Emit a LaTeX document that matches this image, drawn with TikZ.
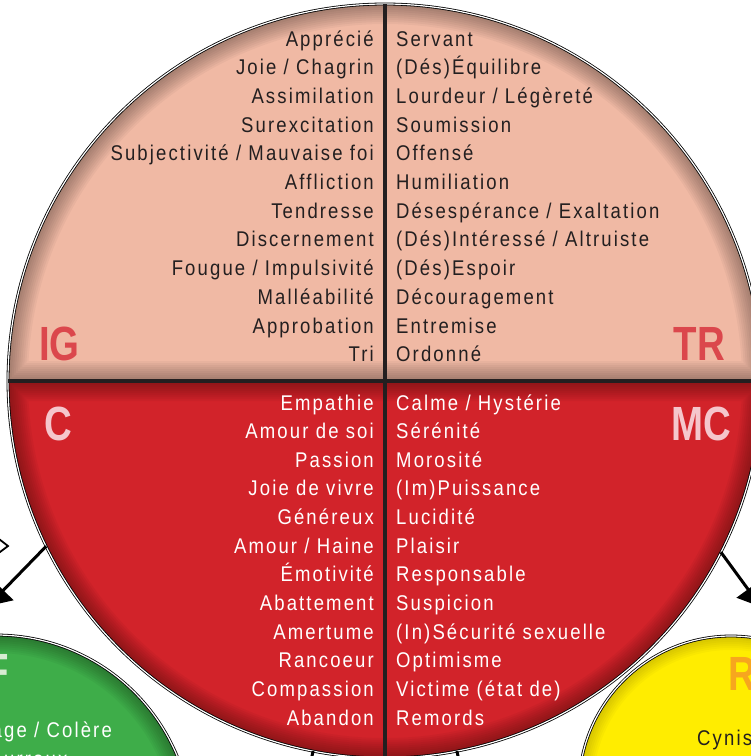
\documentclass[tikz,border=0pt]{standalone}
\usepackage{fontspec}
\setmainfont{Liberation Sans}[FakeStretch=0.87,LetterSpace=10]
\newfontfamily\labelfont{Liberation Sans}[FakeStretch=0.8]
\usetikzlibrary{arrows.meta}
\definecolor{fireLight}{RGB}{240,185,164}
\definecolor{fireDark}{RGB}{210,35,42}
\definecolor{labelTop}{RGB}{219,71,76}
\definecolor{labelBottom}{RGB}{245,198,204}
\definecolor{inkGray}{RGB}{35,31,32}
\definecolor{woodGreen}{RGB}{62,173,73}
\definecolor{woodLight}{RGB}{215,236,210}
\definecolor{earthYellow}{RGB}{255,237,0}
\definecolor{earthOrange}{RGB}{247,166,30}
\tikzset{
    my-ring/.style={
        circle, draw=black, line width=.8pt, double=white, double distance=1.2pt, inner sep=0pt, outer sep=0pt
    },
    my-word/.style={inner sep=0pt, font=\fontsize{21.3}{25}\selectfont},
    my-word-left/.style={my-word, anchor=base east},
    my-word-right/.style={my-word, anchor=base west},
    my-label/.style={inner sep=0pt, font=\labelfont\bfseries\fontsize{48}{48}\selectfont},
    my-arrow/.style={line width=3pt, -{Triangle[length=22pt,width=28pt]}},
    my-divider/.style={draw=inkGray, line width=4.5pt},
}

\begin{document}
\begin{tikzpicture}[x=1pt, y=-1pt]

        \useasboundingbox (0,0) rectangle (751,756);
        \clip (0,0) rectangle (751,756);

        % WOOD CIRCLE (GREEN)
        \fill[woodGreen] (-4,831) circle[radius=196];
        \begin{scope}
            \clip (-4,831) circle[radius=196];
            \foreach \w in {4,8,...,36}
                \draw[line width=\w pt, black, opacity=.035] (-4,831) circle[radius=196];
        \end{scope}
        \node[my-ring, minimum size=392pt] (WOOD) at (-4,831) {};
        \node[my-label, text=woodLight, anchor=base east] (F)  at (9,687)   {F};
        \node[my-word-right, text=white] (WOOD1) at (-24,737) {Rage / Colère};
        \node[my-word-right, text=white] (WOOD2) at (-24,766) {Courroux};

        % EARTH CIRCLE (YELLOW)
        \fill[earthYellow] (731,788) circle[radius=152];
        \begin{scope}
            \clip (731,788) circle[radius=152];
            \foreach \w in {4,8,...,28}
                \draw[line width=\w pt, black, opacity=.025] (731,788) circle[radius=152];
        \end{scope}
        \node[my-ring, minimum size=304pt] (EARTH) at (731,788) {};
        \node[my-label, text=earthOrange, anchor=base west] (R) at (728,690) {R};
        \node[my-word-right, text=inkGray] (EARTH1) at (697,745) {Cynisme};

        % FIRE CIRCLE, TOP HALF
        \fill[fireLight] (8,381) arc[start angle=180, end angle=360, radius=377] -- cycle;
        \begin{scope}
            \clip (8,381) arc[start angle=180, end angle=360, radius=377] -- cycle;
            \foreach \w in {4,8,...,40}
                \draw[line width=\w pt, black, opacity=.035] (8,381) arc[start angle=180, end angle=360, radius=377] -- cycle;
        \end{scope}

        % FIRE CIRCLE, BOTTOM HALF
        \fill[fireDark] (762,381) arc[start angle=0, end angle=180, radius=377] -- cycle;
        \begin{scope}
            \clip (762,381) arc[start angle=0, end angle=180, radius=377] -- cycle;
            \foreach \w in {4,8,...,40}
                \draw[line width=\w pt, black, opacity=.035] (762,381) arc[start angle=0, end angle=180, radius=377] -- cycle;
        \end{scope}

        \node[my-ring, minimum size=754pt] (MAIN) at (385,381) {};
        \coordinate (TOP)    at (385,4);
        \coordinate (BOTTOM) at (385,760);
        \coordinate (LEFT)   at (8,381);
        \coordinate (RIGHT)  at (765,381);
        \draw[my-divider] (TOP)  -- (BOTTOM);
        \draw[my-divider] (LEFT) -- (RIGHT);

        % CORNER LABELS
        \node[my-label, text=labelTop, anchor=base west]    (IG) at (39,360)  {IG};
        \node[my-label, text=labelTop, anchor=base east]    (TR) at (725,360) {TR};
        \node[my-label, text=labelBottom, anchor=base west] (C)  at (44,440)  {C};
        \node[my-label, text=labelBottom, anchor=base east] (MC) at (731,440) {MC};

        % IG WORDS
        \node[my-word-left, text=inkGray] (IG1)  at (374,46)    {Apprécié};
        \node[my-word-left, text=inkGray] (IG2)  at (374,74.7)  {Joie / Chagrin};
        \node[my-word-left, text=inkGray] (IG3)  at (374,103.4) {Assimilation};
        \node[my-word-left, text=inkGray] (IG4)  at (374,132.1) {Surexcitation};
        \node[my-word-left, text=inkGray] (IG5)  at (374,160.8) {Subjectivité / Mauvaise foi};
        \node[my-word-left, text=inkGray] (IG6)  at (374,189.5) {Affliction};
        \node[my-word-left, text=inkGray] (IG7)  at (374,218.2) {Tendresse};
        \node[my-word-left, text=inkGray] (IG8)  at (374,246.9) {Discernement};
        \node[my-word-left, text=inkGray] (IG9)  at (374,275.6) {Fougue / Impulsivité};
        \node[my-word-left, text=inkGray] (IG10) at (374,304.3) {Malléabilité};
        \node[my-word-left, text=inkGray] (IG11) at (374,333)   {Approbation};
        \node[my-word-left, text=inkGray] (IG12) at (374,361.7) {Tri};

        % TR WORDS
        \node[my-word-right, text=inkGray] (TR1)  at (396,46)    {Servant};
        \node[my-word-right, text=inkGray] (TR2)  at (396,74.7)  {(Dés)Équilibre};
        \node[my-word-right, text=inkGray] (TR3)  at (396,103.4) {Lourdeur / Légèreté};
        \node[my-word-right, text=inkGray] (TR4)  at (396,132.1) {Soumission};
        \node[my-word-right, text=inkGray] (TR5)  at (396,160.8) {Offensé};
        \node[my-word-right, text=inkGray] (TR6)  at (396,189.5) {Humiliation};
        \node[my-word-right, text=inkGray] (TR7)  at (396,218.2) {Désespérance / Exaltation};
        \node[my-word-right, text=inkGray] (TR8)  at (396,246.9) {(Dés)Intéressé / Altruiste};
        \node[my-word-right, text=inkGray] (TR9)  at (396,275.6) {(Dés)Espoir};
        \node[my-word-right, text=inkGray] (TR10) at (396,304.3) {Découragement};
        \node[my-word-right, text=inkGray] (TR11) at (396,333)   {Entremise};
        \node[my-word-right, text=inkGray] (TR12) at (396,361.7) {Ordonné};

        % C WORDS
        \node[my-word-left, text=white] (C1)  at (374,410)   {Empathie};
        \node[my-word-left, text=white] (C2)  at (374,438.6) {Amour de soi};
        \node[my-word-left, text=white] (C3)  at (374,467.3) {Passion};
        \node[my-word-left, text=white] (C4)  at (374,495.9) {Joie de vivre};
        \node[my-word-left, text=white] (C5)  at (374,524.6) {Généreux};
        \node[my-word-left, text=white] (C6)  at (374,553.2) {Amour / Haine};
        \node[my-word-left, text=white] (C7)  at (374,581.8) {Émotivité};
        \node[my-word-left, text=white] (C8)  at (374,610.5) {Abattement};
        \node[my-word-left, text=white] (C9)  at (374,639.1) {Amertume};
        \node[my-word-left, text=white] (C10) at (374,667.8) {Rancoeur};
        \node[my-word-left, text=white] (C11) at (374,696.4) {Compassion};
        \node[my-word-left, text=white] (C12) at (374,725)   {Abandon};

        % MC WORDS
        \node[my-word-right, text=white] (MC1)  at (396,410)   {Calme / Hystérie};
        \node[my-word-right, text=white] (MC2)  at (396,438.6) {Sérénité};
        \node[my-word-right, text=white] (MC3)  at (396,467.3) {Morosité};
        \node[my-word-right, text=white] (MC4)  at (396,495.9) {(Im)Puissance};
        \node[my-word-right, text=white] (MC5)  at (396,524.6) {Lucidité};
        \node[my-word-right, text=white] (MC6)  at (396,553.2) {Plaisir};
        \node[my-word-right, text=white] (MC7)  at (396,581.8) {Responsable};
        \node[my-word-right, text=white] (MC8)  at (396,610.5) {Suspicion};
        \node[my-word-right, text=white] (MC9)  at (396,639.1) {(In)Sécurité sexuelle};
        \node[my-word-right, text=white] (MC10) at (396,667.8) {Optimisme};
        \node[my-word-right, text=white] (MC11) at (396,696.4) {Victime (état de)};
        \node[my-word-right, text=white] (MC12) at (396,725)   {Remords};

        % ARROWS
        \coordinate (LEFTTIP)  at (-12,606);
        \coordinate (RIGHTTIP) at (761,607);
        \coordinate (STUBL)    at (309,770);
        \coordinate (STUBR)    at (461,770);
        \draw[my-arrow] (MAIN.206) -- (LEFTTIP);
        \draw[my-arrow] (MAIN.333) -- (RIGHTTIP);
        \draw[line width=3pt] (MAIN.259) -- (STUBL);
        \draw[line width=3pt] (MAIN.281) -- (STUBR);
        \draw[line width=1.8pt, fill=white] (-10,532) -- (8,546) -- (-8,558) -- cycle;

    \end{tikzpicture}
\end{document}
